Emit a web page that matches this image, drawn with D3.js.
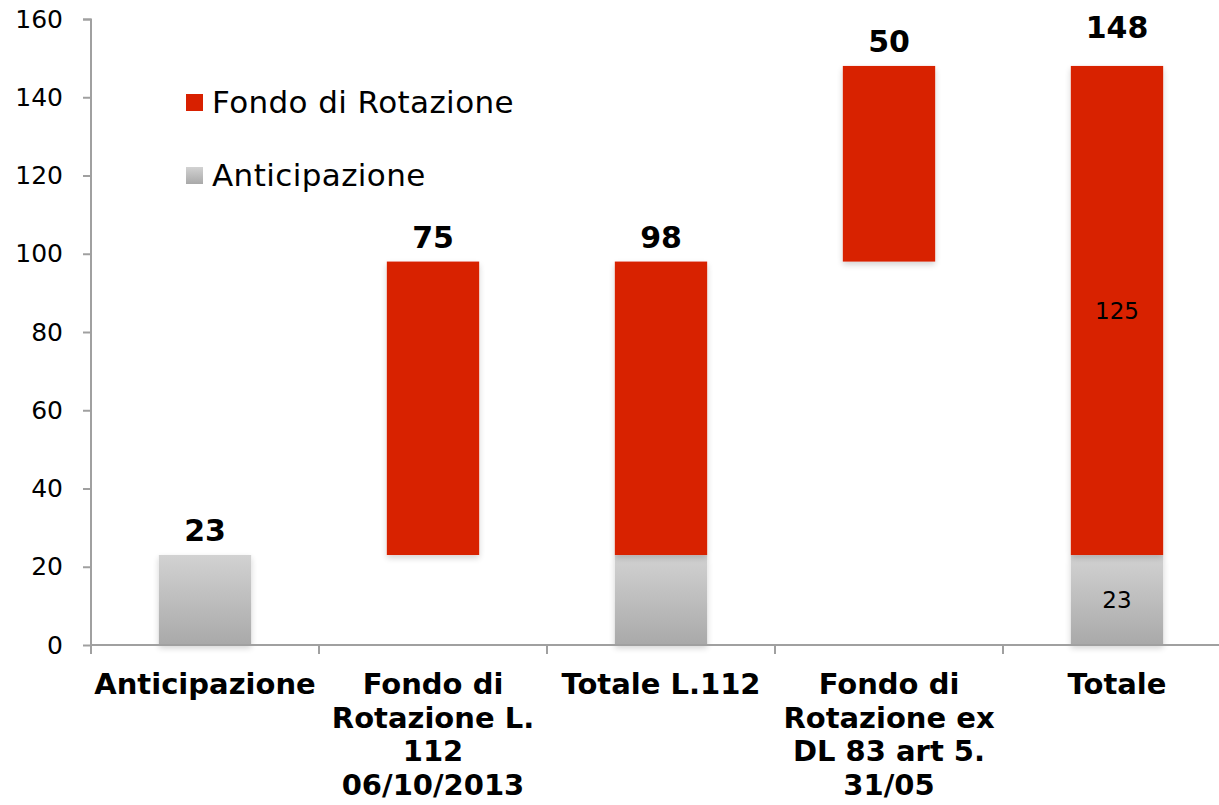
<!DOCTYPE html>
<html lang="it">
<head>
<meta charset="UTF-8">
<title>Fondo di Rotazione</title>
<script src="https://cdnjs.cloudflare.com/ajax/libs/d3/7.8.5/d3.min.js"></script>
<style>
    html, body { margin: 0; background: #fff; }
    svg { display: block; font-family: "DejaVu Sans", Verdana, sans-serif; }
    svg text { font-family: "DejaVu Sans", Verdana, sans-serif; }
</style>
</head>
<body>
<div id="chart"></div>
<script>
    // categories (multi-line labels)
    var categories = [
        ['Anticipazione'],
        ['Fondo di', 'Rotazione L.', '112', '06/10/2013'],
        ['Totale L.112'],
        ['Fondo di', 'Rotazione ex', 'DL 83 art 5.', '31/05'],
        ['Totale']
    ];
    var baseValues = [0, 23, 0, 98, 0];          // invisible offset
    var anticipazione = [23, 0, 23, 0, 23];
    var fondo = [0, 75, 75, 50, 125];
    var topLabels = ['23', '75', '98', '50', '148'];
    var yTicks = [0, 20, 40, 60, 80, 100, 120, 140, 160];

    var width = 1219, height = 805;
    var margin = { top: 19, right: 0, bottom: 160, left: 91 };
    var w = width - margin.left - margin.right;
    var h = height - margin.top - margin.bottom;

    var red = '#d82000';

    var svg = d3.select('#chart').append('svg')
        .attr('width', width)
        .attr('height', height);

    var defs = svg.append('defs');
    var grad = defs.append('linearGradient')
        .attr('id', 'grayGrad')
        .attr('x1', 0).attr('y1', 0).attr('x2', 0).attr('y2', 1);
    grad.append('stop').attr('offset', '0%').attr('stop-color', '#d2d2d2');
    grad.append('stop').attr('offset', '100%').attr('stop-color', '#a9a9a9');

    var shadow = defs.append('filter')
        .attr('id', 'shadow')
        .attr('x', '-20%').attr('y', '-20%').attr('width', '140%').attr('height', '140%');
    shadow.append('feGaussianBlur').attr('in', 'SourceAlpha').attr('stdDeviation', 3);
    shadow.append('feOffset').attr('dx', 0).attr('dy', 3).attr('result', 'blur');
    shadow.append('feComponentTransfer').append('feFuncA').attr('type', 'linear').attr('slope', 0.18);
    var merge = shadow.append('feMerge');
    merge.append('feMergeNode');
    merge.append('feMergeNode').attr('in', 'SourceGraphic');

    var g = svg.append('g')
        .attr('transform', 'translate(' + margin.left + ',' + margin.top + ')');

    var x = d3.scaleBand()
        .domain(d3.range(categories.length))
        .range([0, 228 * categories.length])
        .paddingInner(0.595)
        .paddingOuter(0.2975);

    var y = d3.scaleLinear()
        .domain([0, 160])
        .range([h, 0]);

    var rows = categories.map(function(c, i) {
        return { i: i, base: baseValues[i], anti: anticipazione[i], fondo: fondo[i], label: topLabels[i] };
    });

    // gray bars (anticipazione)
    g.selectAll('.anti')
        .data(rows.filter(function(d) { return d.anti > 0; }))
        .enter()
        .append('rect')
        .attr('class', 'anti')
        .attr('x', function(d) { return x(d.i); })
        .attr('width', x.bandwidth())
        .attr('y', function(d) { return y(d.base + d.anti); })
        .attr('height', function(d) { return y(d.base) - y(d.base + d.anti); })
        .attr('fill', 'url(#grayGrad)')
        .attr('filter', 'url(#shadow)');

    // red bars (fondo di rotazione)
    g.selectAll('.fondo')
        .data(rows.filter(function(d) { return d.fondo > 0; }))
        .enter()
        .append('rect')
        .attr('class', 'fondo')
        .attr('x', function(d) { return x(d.i); })
        .attr('width', x.bandwidth())
        .attr('y', function(d) { return y(d.base + d.anti + d.fondo); })
        .attr('height', function(d) { return y(d.base + d.anti) - y(d.base + d.anti + d.fondo); })
        .attr('fill', red)
        .attr('filter', 'url(#shadow)');

    // top labels
    var last = categories.length - 1;
    g.selectAll('.toplabel')
        .data(rows)
        .enter()
        .append('text')
        .attr('class', 'toplabel')
        .attr('x', function(d) { return x(d.i) + x.bandwidth() / 2; })
        .attr('y', function(d) { return y(d.base + d.anti + d.fondo) - (d.i === last ? 28 : 14); })
        .attr('text-anchor', 'middle')
        .style('font-size', '30px')
        .style('font-weight', 'bold')
        .text(function(d) { return d.label; });

    // inner labels on the last bar
    g.append('text')
        .attr('x', x(last) + x.bandwidth() / 2)
        .attr('y', y(anticipazione[last] + fondo[last] / 2))
        .attr('dy', '0.35em')
        .attr('text-anchor', 'middle')
        .style('font-size', '23px')
        .text(fondo[last]);
    g.append('text')
        .attr('x', x(last) + x.bandwidth() / 2)
        .attr('y', y(anticipazione[last] / 2))
        .attr('dy', '0.35em')
        .attr('text-anchor', 'middle')
        .style('font-size', '23px')
        .text(anticipazione[last]);

    // y axis
    var yAxis = g.append('g')
        .call(d3.axisLeft(y).tickValues(yTicks).tickSize(8).tickPadding(20));
    yAxis.attr('font-family', null).attr('font-size', null);
    yAxis.selectAll('line, path').attr('stroke', '#a0a0a0').attr('stroke-width', 2);
    yAxis.selectAll('text').style('font-size', '25px').attr('fill', '#000');
    yAxis.select('.domain').attr('d', 'M-8,0.5H0V' + h);

    // x axis
    var xa = g.append('g').attr('transform', 'translate(0,' + h + ')');
    xa.append('line')
        .attr('x1', 0).attr('x2', w)
        .attr('stroke', '#a0a0a0').attr('stroke-width', 2);
    xa.selectAll('.xtick')
        .data(d3.range(categories.length + 1))
        .enter()
        .append('line')
        .attr('class', 'xtick')
        .attr('x1', function(i) { return i * x.step(); })
        .attr('x2', function(i) { return i * x.step(); })
        .attr('y1', 0).attr('y2', 9)
        .attr('stroke', '#a0a0a0').attr('stroke-width', 2);
    var xl = xa.selectAll('.xlabel')
        .data(categories)
        .enter()
        .append('text')
        .attr('class', 'xlabel')
        .attr('text-anchor', 'middle')
        .attr('y', 49)
        .style('font-size', '29px')
        .style('font-weight', 'bold');
    xl.each(function(lines, i) {
        var t = d3.select(this);
        lines.forEach(function(l, j) {
            t.append('tspan')
                .attr('x', x(i) + x.bandwidth() / 2)
                .attr('dy', j === 0 ? 0 : 33.5)
                .text(l);
        });
    });

    // legend
    var legend = [
        { label: 'Fondo di Rotazione', fill: red, y: 102 },
        { label: 'Anticipazione', fill: 'url(#grayGrad)', y: 175 }
    ];
    var lg = svg.append('g');
    lg.selectAll('rect')
        .data(legend)
        .enter()
        .append('rect')
        .attr('x', 186).attr('y', function(d) { return d.y - 8; })
        .attr('width', 17).attr('height', 17)
        .attr('fill', function(d) { return d.fill; });
    lg.selectAll('text')
        .data(legend)
        .enter()
        .append('text')
        .attr('x', 212).attr('y', function(d) { return d.y; })
        .attr('dy', '0.35em')
        .style('font-size', '31px')
        .style('letter-spacing', '0.4px')
        .text(function(d) { return d.label; });
</script>
</body>
</html>
